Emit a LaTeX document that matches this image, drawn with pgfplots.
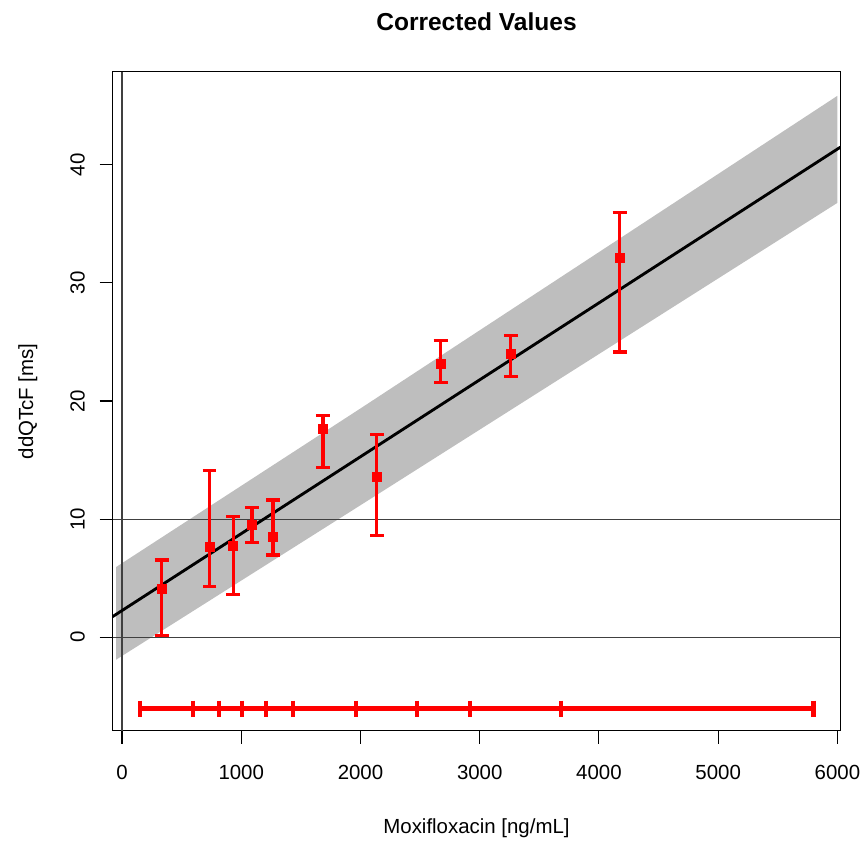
\documentclass[border=0pt]{standalone}
\usepackage{pgfplots}
\pgfplotsset{compat=1.18}
\usepackage{pgfplotstable}
\usepackage{fontspec}
\setmainfont{Liberation Sans}
\definecolor{band}{HTML}{BEBEBE}
\definecolor{refl}{HTML}{404040}

% medians per concentration decile: x, ddQTcF, lower, upper
\pgfplotstableread{
x     y      lo     hi
332   4.08   0.11   6.54
734   7.61   4.29   14.12
932   7.75   3.58   10.20
1091  9.50   8.03   10.97
1266  8.51   6.96   11.61
1685  17.60  14.35  18.75
2137  13.53  8.60   17.17
2672  23.17  21.54  25.14
3261  23.96  22.10  25.57
4173  32.10  24.16  36.00
}\deciles

\begin{document}
\begin{tikzpicture}
\begin{axis}[
  name=ax,
  width=356.2pt, height=322.6pt, scale only axis,
  xmin=-79, xmax=6025, ymin=-7.95, ymax=47.9,
  xtick={0,1000,...,6000}, ytick={0,10,...,40},
  tick align=outside, tick pos=left,
  major tick length=6.3pt,
  axis line style={line width=0.5pt},
  tick style={black, line width=0.5pt},
  /pgf/number format/assume math mode=true,
  /pgf/number format/1000 sep={},
  tick label style={font=\fontsize{10}{12}\selectfont},
  xticklabel style={anchor=center, yshift=-14pt},
  yticklabel style={rotate=90, anchor=center, yshift=10.8pt},
  title={Corrected Values},
  title style={font=\bfseries\fontsize{12}{14}\selectfont, at={(axis description cs:0.5,1)}, anchor=center, yshift=18.5pt},
  xlabel={Moxifloxacin [ng/mL]},
  ylabel={ddQTcF [ms]},
  label style={font=\fontsize{10}{12}\selectfont},
  xlabel style={at={(axis description cs:0.5,-0.148)}, anchor=center},
  ylabel style={at={(axis description cs:-0.1165,0.5)}, anchor=center, rotate=0},
  clip=true,
]
% confidence band
\addplot[draw=none, fill=band] coordinates {
  (-50,5.93) (2000,19.37) (6000,45.86) (6000,36.79) (2000,11.17) (-50,-1.92)
} -- cycle;

% reference lines
\addplot[refl, line width=0.5pt] coordinates {(-79,0) (6025,0)};
\addplot[refl, line width=0.5pt] coordinates {(-79,10) (6025,10)};
\addplot[refl, line width=0.5pt] coordinates {(0,-7.95) (0,47.9)};

% fitted line
\addplot[black, line width=1.4pt] coordinates {(-79,1.73) (6025,41.51)};

% decile medians with intervals
\addplot[red, only marks, mark=square*, mark size=2.2pt,
  error bars/.cd, y dir=both, y explicit,
  error bar style={red, line width=1.6pt},
  error mark options={red, line width=1.6pt, mark size=3.4pt, rotate=90}]
  table[x=x, y=y, y error plus expr=\thisrow{hi}-\thisrow{y}, y error minus expr=\thisrow{y}-\thisrow{lo}] {\deciles};

% concentration decile boundaries
\addplot[red, line width=2.6pt, mark=|, mark size=3.9pt, mark options={line width=2pt}] coordinates {
  (150,-6.07) (592,-6.07) (812,-6.07) (1008,-6.07) (1211,-6.07) (1432,-6.07)
  (1965,-6.07) (2475,-6.07) (2918,-6.07) (3678,-6.07) (5799,-6.07)
};
\end{axis}
\path ([shift={(-55.1pt,-51.7pt)}]ax.south west) rectangle ([shift={(11.7pt,35.1pt)}]ax.north east);
\end{tikzpicture}
\end{document}
